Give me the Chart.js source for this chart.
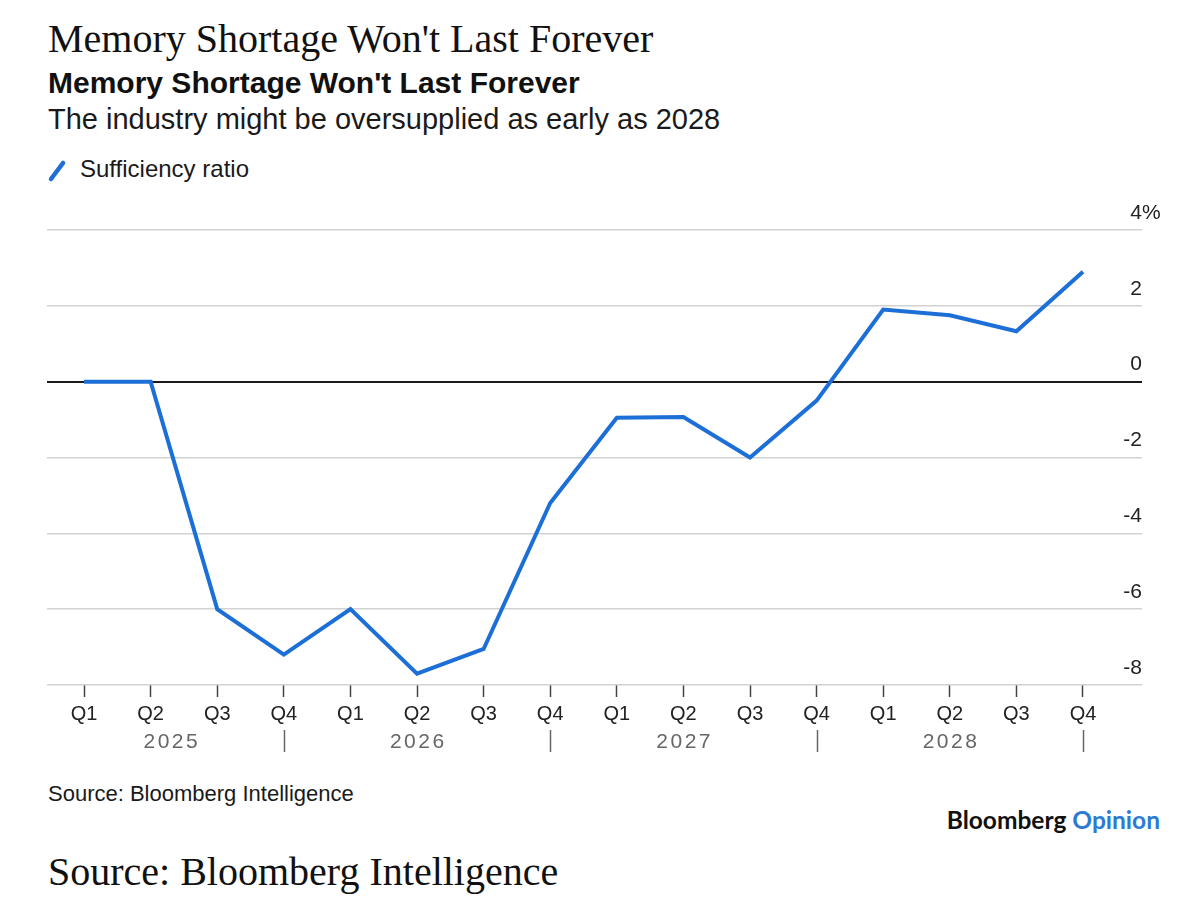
<!DOCTYPE html>
<html>
<head>
<meta charset="utf-8">
<script src="https://cdn.jsdelivr.net/npm/chart.js@4.4.1/dist/chart.umd.min.js"></script>
<style>
  html, body { margin: 0; padding: 0; background: #fff; }
  body { width: 1202px; height: 916px; position: relative; overflow: hidden; }
  .t { position: absolute; white-space: nowrap; line-height: 1; color: #111; }
  .serif { font-family: "Liberation Serif", "DejaVu Serif", serif; font-size: 40px; color: #111; }
  .sans { font-family: "Liberation Sans", Arial, sans-serif; }
  #chartBox { position: absolute; left: 0; top: 190px; width: 1202px; height: 580px; }
</style>
</head>
<body>
<div class="t serif" style="left:48px; top:19px;">Memory Shortage Won't Last Forever</div>
<div class="t sans" style="left:48px; top:68px; font-size:30px; font-weight:bold;">Memory Shortage Won't Last Forever</div>
<div class="t sans" style="left:48px; top:105px; font-size:29px; color:#1a1a1a;">The industry might be oversupplied as early as 2028</div>

<svg style="position:absolute; left:46px; top:158px;" width="22" height="26">
  <line x1="5" y1="21" x2="17" y2="5" stroke="#1d6fd8" stroke-width="4.5" stroke-linecap="round"/>
</svg>
<div class="t sans" style="left:80px; top:157px; font-size:24px; color:#1a1a1a;">Sufficiency ratio</div>

<div id="chartBox"><canvas id="myChart"></canvas></div>

<div class="t sans" style="left:48px; top:783px; font-size:22px; color:#1a1a1a;">Source: Bloomberg Intelligence</div>
<div class="t" style="right:42px; top:808px; font-family:Lato, 'Liberation Sans', sans-serif; font-weight:bold; font-size:24.5px; color:#111;">Bloomberg <span style="color:#2b7bd4;">Opinion</span></div>
<div class="t serif" style="left:48px; top:851.5px;">Source: Bloomberg Intelligence</div>

<script>
// data
const quarters = ["Q1", "Q2", "Q3", "Q4", "Q1", "Q2", "Q3", "Q4",
                  "Q1", "Q2", "Q3", "Q4", "Q1", "Q2", "Q3", "Q4"];
const years = ["2025", "2026", "2027", "2028"];
// where each year label sits, in quarter index units
const yearAt = [1.3, 5, 9, 13];
// year separators under the last quarter
const yearEnds = [3, 7, 11, 15];
const sufficiency = [0, 0, -6.0, -7.2, -6.0, -7.7, -7.05, -3.2,
                     -0.95, -0.93, -2.0, -0.5, 1.9, 1.75, 1.33, 2.9];
const yTicks = [-8, -6, -4, -2, 0, 2, 4];

const sans = "'Liberation Sans', Arial, sans-serif";
const blue = "#1d6fd8";

// plugin - year row under the quarter labels + the % sign on the top tick
const yearRow = {
  id: "yearRow",
  afterDraw(chart) {
    const { ctx, scales: { x, y } } = chart;
    ctx.save();
    ctx.font = "21px " + sans;
    ctx.fillStyle = "#666";
    ctx.textAlign = "center";
    ctx.textBaseline = "alphabetic";
    ctx.letterSpacing = "2.5px";
    years.forEach((yr, i) => {
      ctx.fillText(yr, x.getPixelForValue(yearAt[i]) + 1.25, 558);
    });
    ctx.letterSpacing = "0px";
    ctx.strokeStyle = "#666";
    ctx.lineWidth = 1.5;
    yearEnds.forEach((q) => {
      const px = Math.round(x.getPixelForValue(q)) + 0.5;
      ctx.beginPath();
      ctx.moveTo(px, 540);
      ctx.lineTo(px, 562);
      ctx.stroke();
    });
    // "%" hangs after the top label
    ctx.font = "21px " + sans;
    ctx.fillStyle = "#222";
    ctx.textAlign = "left";
    ctx.textBaseline = "middle";
    ctx.fillText("%", chart.chartArea.right, y.getPixelForValue(yTicks[yTicks.length - 1]) - 17);
    ctx.restore();
  },
};

const config = {
  type: "line",
  data: {
    datasets: [
      {
        label: "Sufficiency ratio",
        data: sufficiency.map((v, i) => ({ x: i, y: v })),
        borderColor: blue,
        borderWidth: 4,
        pointRadius: 0,
        tension: 0,
        fill: false,
      },
    ],
  },
  options: {
    responsive: true,
    maintainAspectRatio: false,
    animation: false,
    layout: { padding: { left: 47, right: 60, top: 40, bottom: 0 } },
    plugins: {
      legend: { display: false },
      tooltip: { enabled: false },
    },
    scales: {
      x: {
        type: "linear",
        min: -0.556,
        max: 15.886,
        afterBuildTicks: (s) => { s.ticks = quarters.map((_, i) => ({ value: i })); },
        afterFit: (s) => { s.height = 85; },
        ticks: {
          callback: (v) => quarters[v],
          autoSkip: false,
          maxRotation: 0,
          padding: 5,
          color: "#222",
          font: { family: sans, size: 20 },
        },
        grid: {
          drawOnChartArea: false,
          drawTicks: true,
          tickLength: 12,
          tickColor: "#444",
          tickWidth: 1.5,
        },
        border: { display: false },
      },
      y: {
        position: "right",
        min: -8,
        max: 4,
        afterBuildTicks: (s) => { s.ticks = yTicks.map((v) => ({ value: v })); },
        afterFit: (s) => { s.width = 0; },
        ticks: {
          mirror: true,
          padding: 0,
          labelOffset: -17,
          color: "#222",
          font: { family: sans, size: 21 },
        },
        grid: {
          drawTicks: false,
          color: (c) => (c.tick && c.tick.value === 0 ? "#1a1a1a" : "#d2d2d2"),
          lineWidth: (c) => (c.tick && c.tick.value === 0 ? 2 : 1.5),
        },
        border: { display: false },
      },
    },
  },
  plugins: [yearRow],
};

const myChart = new Chart(document.getElementById("myChart"), config);
</script>
</body>
</html>
